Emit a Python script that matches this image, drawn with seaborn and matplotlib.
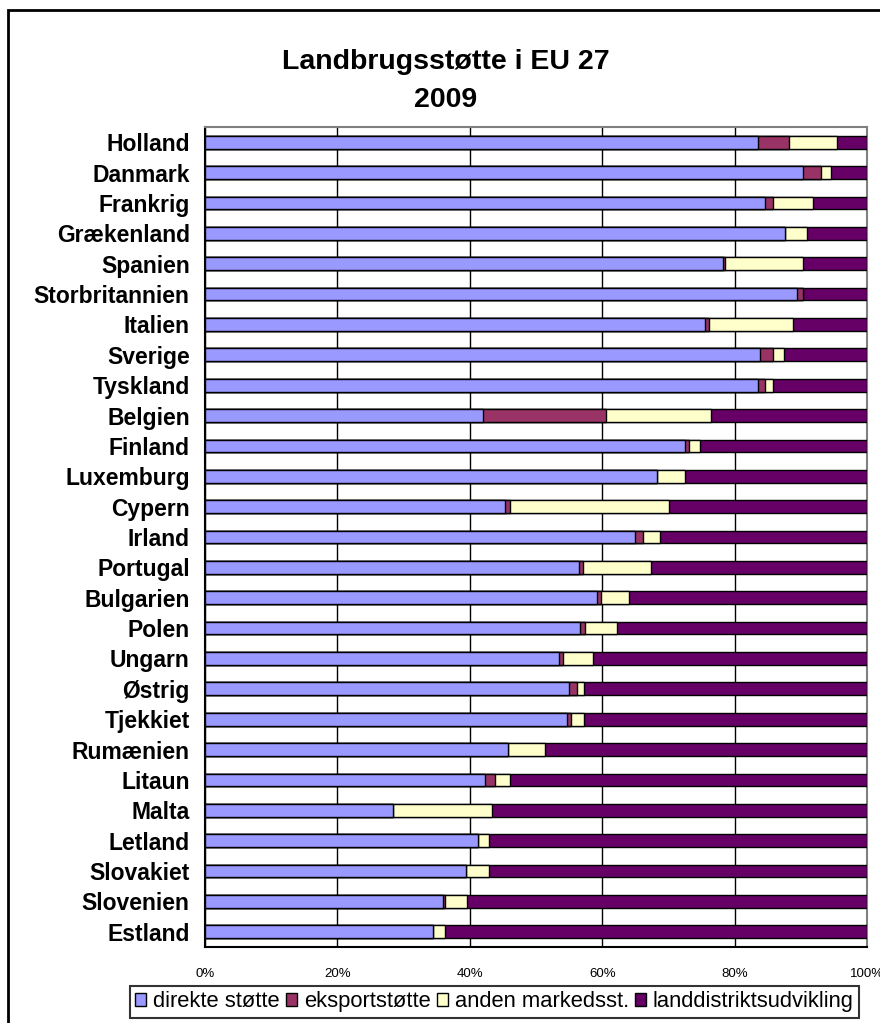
import matplotlib
matplotlib.use("Agg")
import matplotlib.pyplot as plt
from matplotlib.patches import Patch, Rectangle
import numpy as np
import pandas as pd
import seaborn as sns

# Landbrugsstøtte i EU 27, 2009 — andel af støtten pr. land (%)
countries = [
    "Holland", "Danmark", "Frankrig", "Grækenland", "Spanien", "Storbritannien",
    "Italien", "Sverige", "Tyskland", "Belgien", "Finland", "Luxemburg", "Cypern",
    "Irland", "Portugal", "Bulgarien", "Polen", "Ungarn", "Østrig", "Tjekkiet",
    "Rumænien", "Litaun", "Malta", "Letland", "Slovakiet", "Slovenien", "Estland",
]
direkte = [83.6, 90.3, 84.6, 87.6, 78.2, 89.4, 75.6, 83.9, 83.6, 42.0, 72.5, 68.3, 45.3,
           64.9, 56.5, 59.2, 56.6, 53.5, 55.0, 54.7, 45.7, 42.3, 28.4, 41.3, 39.5, 35.9, 34.4]
eksport = [4.6, 2.8, 1.2, 0.0, 0.4, 0.9, 0.6, 1.9, 1.0, 18.5, 0.6, 0.0, 0.7,
           1.2, 0.6, 0.6, 0.8, 0.6, 1.2, 0.6, 0.0, 1.5, 0.0, 0.0, 0.0, 0.3, 0.0]
anden = [7.2, 1.5, 6.0, 3.4, 11.7, 0.0, 12.6, 1.6, 1.2, 16.0, 1.6, 4.2, 24.1,
         2.7, 10.3, 4.2, 4.9, 4.5, 1.1, 2.0, 5.7, 2.3, 15.0, 1.6, 3.4, 3.4, 1.8]
landdistrikt = [4.6, 5.4, 8.2, 9.0, 9.7, 9.7, 11.2, 12.6, 14.2, 23.5, 25.3, 27.5, 29.9,
                31.2, 32.6, 36.0, 37.7, 41.4, 42.7, 42.7, 48.6, 53.9, 56.6, 57.1, 57.1, 60.4, 63.8]

series_names = ["direkte støtte", "eksportstøtte", "anden markedsst.", "landdistriktsudvikling"]
series_colors = ["#9999FF", "#993366", "#FFFFCC", "#660066"]
x_ticks = [0, 20, 40, 60, 80, 100]

df = pd.DataFrame({
    "land": countries,
    series_names[0]: direkte,
    series_names[1]: eksport,
    series_names[2]: anden,
    series_names[3]: landdistrikt,
})
cum = df[series_names].cumsum(axis=1).assign(land=df["land"])

sns.set_style("white")
plt.rcParams["font.family"] = ["Liberation Sans", "DejaVu Sans"]
plt.rcParams["text.color"] = "black"
plt.rcParams["xtick.color"] = "black"
plt.rcParams["ytick.color"] = "black"
plt.rcParams["axes.labelcolor"] = "black"

W, H = 880, 1023
fig = plt.figure(figsize=(W / 100, H / 100), dpi=100)
ax = fig.add_axes([205 / W, 1 - 947 / H, (867 - 205) / W, (947 - 127) / H])

# stacked bars: draw cumulative totals from the outermost segment inwards
for name, color in reversed(list(zip(series_names, series_colors))):
    sns.barplot(data=cum, x=name, y="land", orient="h", order=countries,
                color=color, saturation=1, edgecolor="black", linewidth=1.0,
                width=0.42, errorbar=None, ax=ax, zorder=3)

ax.set_xlim(0, 100)
ax.set_ylim(len(countries) - 0.5, -0.5)
ax.set_xlabel("")
ax.set_ylabel("")

ax.set_xticks(x_ticks)
ax.set_xticklabels([f"{v}%" for v in x_ticks], fontsize=9.5, color="black")
ax.xaxis.grid(True, color="black", linewidth=1.0)
ax.yaxis.grid(False)
ax.set_axisbelow(True)

ax.set_yticks(range(len(countries)))
ax.set_yticklabels(countries, fontsize=16.5, fontweight="bold", color="black")
ax.set_yticks(np.arange(-0.5, len(countries), 1.0), minor=True)
ax.tick_params(axis="y", which="major", length=0, pad=11)
ax.tick_params(axis="y", which="minor", length=7, width=1.2, color="black", direction="out")
ax.tick_params(axis="x", which="major", length=4, width=1.2, color="black",
               direction="out", pad=11)

for side in ("left", "bottom"):
    ax.spines[side].set_color("black")
    ax.spines[side].set_linewidth(1.5)
for side in ("top", "right"):
    ax.spines[side].set_color("#808080")
    ax.spines[side].set_linewidth(1.5)

fig.text(446 / W, 1 - 62 / H, "Landbrugsstøtte i EU 27", ha="center", va="center",
         fontsize=20.5, fontweight="bold", color="black")
fig.text(446 / W, 1 - 100 / H, "2009", ha="center", va="center",
         fontsize=20.5, fontweight="bold", color="black")

handles = [Patch(facecolor=c, edgecolor="black", linewidth=1.0) for c in series_colors]
leg = fig.legend(handles, series_names, loc="upper left",
                 bbox_to_anchor=(130 / W, 1 - 986 / H), ncol=4, frameon=True,
                 fancybox=False, edgecolor="black", prop={"size": 15.8},
                 handlelength=0.5, handleheight=0.5, handletextpad=0.3,
                 columnspacing=0.3, borderpad=0.25, borderaxespad=0)
leg.get_frame().set_linewidth(1.5)

# outer chart frame
fig.patches.append(Rectangle((8 / W, -0.05), 1.2, 1 - 10 / H + 0.05,
                             transform=fig.transFigure, fill=False,
                             edgecolor="black", linewidth=2))

fig.savefig("out.png", dpi=100)
